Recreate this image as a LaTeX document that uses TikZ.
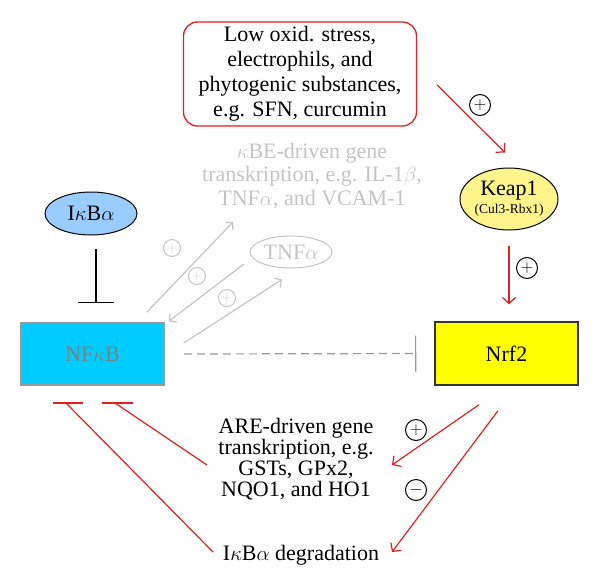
\documentclass[tikz,border=0pt]{standalone}
\usepackage{fontspec}
\setmainfont{Liberation Serif}
\usetikzlibrary{arrows.meta,shapes.geometric}
\definecolor{myred}{HTML}{E02020}
\definecolor{ltgray}{HTML}{C4C4C4}
\definecolor{dgray}{HTML}{999999}
\definecolor{nfcyan}{HTML}{00CCFF}
\definecolor{ikbblue}{HTML}{99CCFF}
\definecolor{keapyel}{HTML}{FFF58C}
\definecolor{nrfyel}{HTML}{FFFF00}
\tikzset{
  bigtxt/.style={font=\fontsize{22}{25}\selectfont},
  redarr/.style={draw=myred, line width=1.2pt, -{Straight Barb[length=6pt,width=13pt,line width=1.2pt]}},
  redline/.style={draw=myred, line width=1.2pt},
  grayarr/.style={draw=ltgray, line width=1.2pt, -{Straight Barb[length=5pt,width=11pt,line width=1.2pt]}},
  pmsign/.style={circle, draw, line width=1pt, minimum size=21pt, inner sep=0pt, font=\fontsize{16}{16}\selectfont},
  pmgray/.style={circle, draw=ltgray, text=ltgray, line width=1pt, minimum size=17pt, inner sep=0pt, font=\fontsize{13}{13}\selectfont},
  txt/.style={inner sep=0pt, align=center}
}
\begin{document}
\begin{tikzpicture}[x=1pt,y=-1pt]
\useasboundingbox (0,0) rectangle (600,587);

% nodes
\node[bigtxt, txt, draw=myred, line width=1.3pt, rounded corners=14pt, minimum width=233pt, minimum height=104pt] (stim) at (300,74)
  {Low oxid. stress,\\electrophils, and\\phytogenic substances,\\e.g. SFN, curcumin};
\node[ellipse, draw, line width=1pt, fill=keapyel, minimum width=98pt, minimum height=62pt, inner sep=0pt, align=center, font=\fontsize{13.5}{18}\selectfont] (keap) at (509,199)
  {{\fontsize{22}{22}\selectfont Keap1}\\(Cul3-Rbx1)};
\node[draw=black!80, line width=1.5pt, fill=nrfyel, minimum width=143pt, minimum height=63pt, inner sep=0pt, bigtxt] (nrf2) at (506.5,353.5) {Nrf2};
\node[draw=dgray, line width=1.5pt, fill=nfcyan, minimum width=143pt, minimum height=62pt, inner sep=0pt, bigtxt, text=black!50] (nfkb) at (92.5,354) {NF$\kappa$B};
\node[ellipse, draw, line width=1pt, fill=ikbblue, minimum width=92pt, minimum height=43pt, inner sep=0pt, bigtxt] (ikb) at (91,213.5) {I$\kappa$B$\alpha$};
\node[txt, text=ltgray, font=\fontsize{22}{23.5}\selectfont] (kbe) at (312,176) {$\kappa$BE-driven gene\\transkription, e.g. IL-1$\beta$,\\TNF$\alpha$, and VCAM-1};
\node[ellipse, draw=ltgray, line width=1pt, text=ltgray, minimum width=82pt, minimum height=32pt, inner sep=0pt, bigtxt] (tnf) at (291,252) {TNF$\alpha$};
\node[txt, font=\fontsize{22}{21}\selectfont] (are) at (296,459) {ARE-driven gene\\transkription, e.g.\\GSTs, GPx2,\\NQO1, and HO1};
\node[txt, bigtxt] (deg) at (301,555) {I$\kappa$B$\alpha$ degradation};

% plus / minus signs
\node[pmsign] (p1) at (480,105) {$+$};
\node[pmsign] (p2) at (527,268) {$+$};
\node[pmsign] (p3) at (416,430) {$+$};
\node[pmsign] (m1) at (416,490) {$-$};
\node[pmgray] (g1) at (172,248) {$+$};
\node[pmgray] (g2) at (197,276) {$+$};
\node[pmgray] (g3) at (227,298) {$+$};

% red activations
\draw[redarr] ([shift={(20,11)}]stim.east) -- ([shift={(-4,-15)}]keap.north);
\draw[redarr] ([shift={(0,15)}]keap.south) -- ([shift={(2.5,-17)}]nrf2.north);
\draw[redarr] ([shift={(-27.5,19)}]nrf2.south) -- ([shift={(96,6)}]are.center);
\draw[redarr] ([shift={(-8.5,25)}]nrf2.south) -- ([shift={(91,-3)}]deg.center);

% red inhibitions of NFkB
\coordinate (b1) at (117,403);
\coordinate (b2) at (68,403);
\draw[redline] ([shift={(-89,6)}]are.center) -- ([xshift=-2pt]b1);
\draw[redline] ([xshift=-15.5pt]b1) -- ([xshift=15.5pt]b1);
\draw[redline] ([shift={(-88,-3)}]deg.center) -- ([xshift=-2pt]b2);
\draw[redline] ([xshift=-15pt]b2) -- ([xshift=15pt]b2);

% black inhibition
\draw[line width=1.2pt, -{Bar[width=36pt,line width=1.2pt]}] ([shift={(5,13.5)}]ikb.south) -- ([shift={(3.5,-19)}]nfkb.north);

% dashed inhibition
\draw[draw=dgray, line width=1.2pt, dash pattern=on 8pt off 5pt, -{Bar[width=36pt,line width=1.2pt]}] ([xshift=19pt]nfkb.east) -- ([xshift=-18pt]nrf2.west);

% gray arrows
\draw[grayarr] ([shift={(-18,-10)}]nfkb.north east) -- ([shift={(-79,46)}]kbe.center);
\draw[grayarr] ([shift={(-47,12)}]tnf.center) -- ([shift={(4,-1)}]nfkb.north east);
\draw[grayarr] ([shift={(19,-11)}]nfkb.east) -- ([shift={(-9,11)}]tnf.south);
\end{tikzpicture}
\end{document}
